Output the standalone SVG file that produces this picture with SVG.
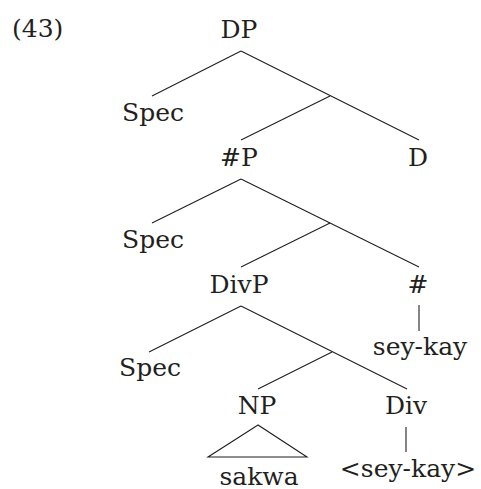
<svg xmlns="http://www.w3.org/2000/svg" width="481" height="489" viewBox="0 0 481 489">
<style>
text{font-family:"DejaVu Serif","Liberation Serif",serif;font-size:25px;fill:#231f20;text-anchor:middle}
.e{stroke:#231f20;stroke-width:1.1;fill:none}
</style>
<rect width="481" height="489" fill="#fff"/>
<g id="connectors">
<line class="e" x1="241" y1="51" x2="152" y2="96"/>
<line class="e" x1="241" y1="51" x2="419" y2="140"/>
<line class="e" x1="330" y1="96" x2="241" y2="140"/>
<line class="e" x1="241" y1="179" x2="152" y2="223"/>
<line class="e" x1="241" y1="179" x2="419" y2="267"/>
<line class="e" x1="330" y1="223" x2="241" y2="267"/>
<line class="e" x1="419" y1="305" x2="419" y2="331"/>
<line class="e" x1="241" y1="306" x2="149" y2="352"/>
<line class="e" x1="241" y1="306" x2="407" y2="389"/>
<line class="e" x1="332" y1="352" x2="258" y2="389"/>
<polygon class="e" points="258,425 208,457 307,457"/>
<line class="e" x1="406" y1="427" x2="406" y2="452"/>
</g>
<g id="label"><text x="12" y="37" style="text-anchor:start">(43)</text></g>
<g id="DP"><text x="239" y="38">DP</text></g>
<g id="Spec1"><text x="153" y="121">Spec</text></g>
<g id="numP"><text x="239" y="166">#P</text></g>
<g id="D"><text x="418" y="166">D</text></g>
<g id="Spec2"><text x="153" y="248">Spec</text></g>
<g id="DivP"><text x="239" y="293">DivP</text></g>
<g id="num"><text x="418" y="293">#</text></g>
<g id="seykay"><text x="420" y="355">sey-kay</text></g>
<g id="Spec3"><text x="150" y="376">Spec</text></g>
<g id="NP"><text x="257" y="414">NP</text></g>
<g id="Div"><text x="406" y="414">Div</text></g>
<g id="sakwa"><text x="259" y="485">sakwa</text></g>
<g id="seykay2"><text x="408" y="477">&lt;sey-kay&gt;</text></g>
</svg>
